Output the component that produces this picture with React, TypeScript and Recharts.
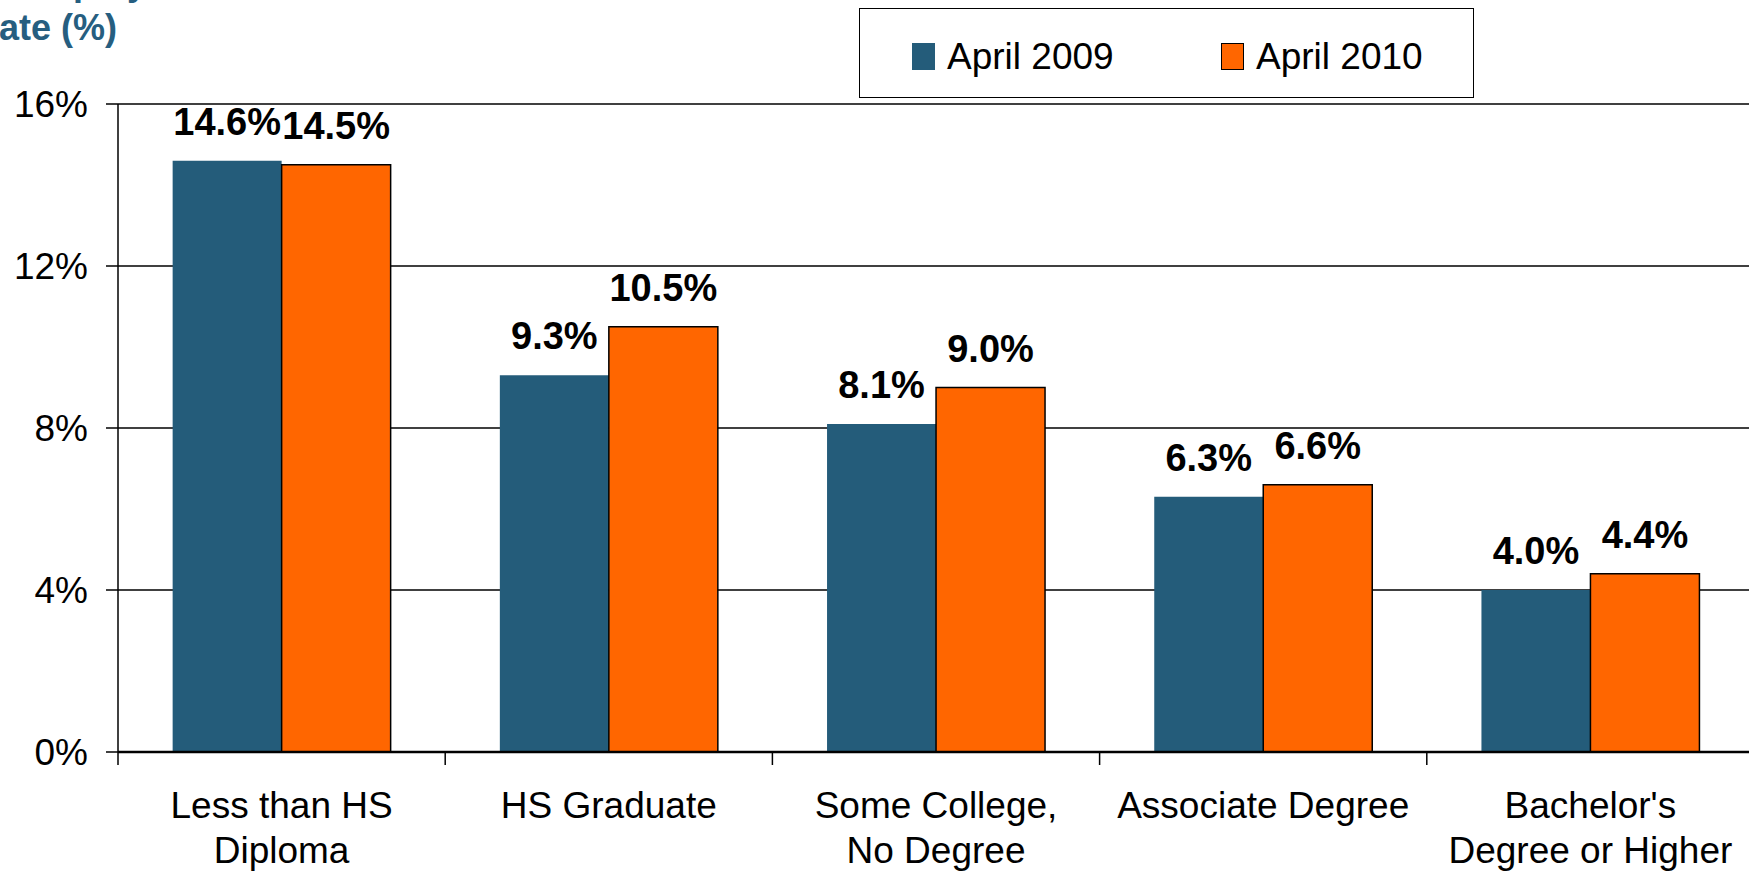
import { BarChart, Bar, XAxis, YAxis, CartesianGrid, LabelList } from "recharts";

const categories = [
  "Less than HS\nDiploma",
  "HS Graduate",
  "Some College,\nNo Degree",
  "Associate Degree",
  "Bachelor's\nDegree or Higher",
];
const april2009 = [14.6, 9.3, 8.1, 6.3, 4.0];
const april2010 = [14.5, 10.5, 9.0, 6.6, 4.4];
const yTicks = [0, 4, 8, 12, 16];
const seriesNames = ["April 2009", "April 2010"];

const data = categories.map((name, i) => ({
  name,
  a2009: april2009[i],
  a2010: april2010[i],
}));

const FONT = '"Liberation Sans", Arial, sans-serif';
const BLUE = "#245C7A";
const ORANGE = "#FF6600";
const CHART_W = 1754;
const CHART_H = 878;
const Y_W = 118;
const BAND = (CHART_W - Y_W) / categories.length;

function XTick(props: any) {
  const { x, y, payload } = props;
  const lines = String(payload.value).split("\n");
  const left = x - BAND / 2;
  return (
    <g>
      <line x1={left} x2={left} y1={y} y2={y + 13} stroke="#000" strokeWidth={1.5} />
      {lines.map((l, i) => (
        <text
          key={i}
          x={x}
          y={y + 66 + i * 45}
          textAnchor="middle"
          fontFamily={FONT}
          fontSize={37}
          fill="#000"
        >
          {l}
        </text>
      ))}
    </g>
  );
}

const fmt = (v: any) => Number(v).toFixed(1) + "%";

export default function App() {
  const colors = [BLUE, ORANGE];
  return (
    <div style={{ position: "absolute", left: 0, top: 0, width: 1749, height: 878, overflow: "hidden", background: "#fff" }}>
      <div
        style={{
          position: "absolute",
          left: -27,
          top: -39,
          fontFamily: FONT,
          fontWeight: "bold",
          fontSize: 36,
          lineHeight: "44.5px",
          color: "#265E80",
          whiteSpace: "nowrap",
        }}
      >
        Unemployment
        <br />
        Rate (%)
      </div>
      <BarChart
        width={CHART_W}
        height={CHART_H}
        data={data}
        margin={{ top: 104, right: 0, bottom: 0, left: 0 }}
        barGap={0}
        barCategoryGap="16.7%"
      >
        <CartesianGrid vertical={false} stroke="#000" strokeWidth={1.5} />
        <XAxis
          dataKey="name"
          height={126}
          tickSize={0}
          tickMargin={0}
          tickLine={false}
          axisLine={{ stroke: "#000", strokeWidth: 2.5 }}
          tick={<XTick />}
          interval={0}
        />
        <YAxis
          width={Y_W}
          domain={[0, 16]}
          ticks={yTicks}
          tickFormatter={(v) => v + "%"}
          tickSize={12}
          tickMargin={18}
          tickLine={{ stroke: "#000", strokeWidth: 1.5 }}
          axisLine={{ stroke: "#000", strokeWidth: 1.5 }}
          tick={{ fontFamily: FONT, fontSize: 37, fill: "#000" }}
        />
        <Bar dataKey="a2009" name={seriesNames[0]} fill={BLUE} isAnimationActive={false}>
          <LabelList
            dataKey="a2009"
            position="top"
            offset={26}
            formatter={fmt}
            style={{ fontFamily: FONT, fontSize: 38, fontWeight: "bold", fill: "#000" }}
          />
        </Bar>
        <Bar dataKey="a2010" name={seriesNames[1]} fill={ORANGE} stroke="#000" strokeWidth={1.5} isAnimationActive={false}>
          <LabelList
            dataKey="a2010"
            position="top"
            offset={26}
            formatter={fmt}
            style={{ fontFamily: FONT, fontSize: 38, fontWeight: "bold", fill: "#000", stroke: "none" }}
          />
        </Bar>
      </BarChart>
      <div
        style={{
          position: "absolute",
          left: 859,
          top: 8,
          width: 613,
          height: 88,
          border: "1.5px solid #000",
          background: "#fff",
          fontFamily: FONT,
          fontSize: 37,
        }}
      >
        {seriesNames.map((s, i) => (
          <div
            key={s}
            style={{ position: "absolute", left: 52 + i * 309, top: 33, display: "flex", alignItems: "center" }}
          >
            <div
              style={{
                width: 23,
                height: 27,
                background: colors[i],
                border: i === 1 ? "1.5px solid #000" : "none",
                boxSizing: "border-box",
                marginRight: 12,
              }}
            />
            <span style={{ lineHeight: "28px", position: "relative", top: 1 }}>{s}</span>
          </div>
        ))}
      </div>
    </div>
  );
}
